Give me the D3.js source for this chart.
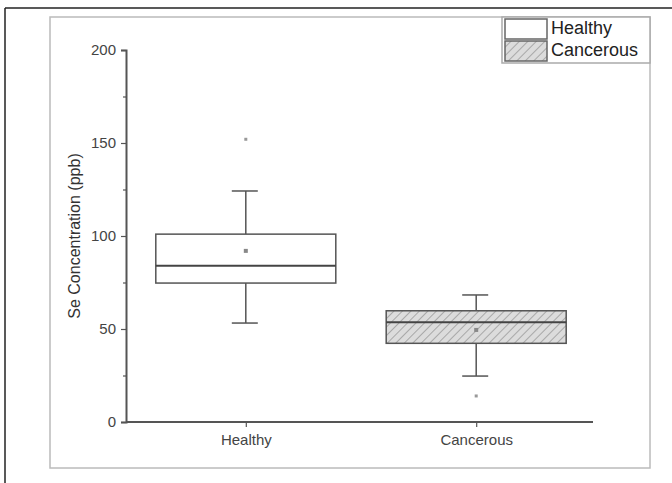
<!DOCTYPE html>
<html lang="en">
<head>
<meta charset="utf-8">
<script src="https://d3js.org/d3.v7.min.js"></script>
<style>
  body { margin: 0; background: #fff; }
  svg { font-family: "Liberation Sans", Arial, sans-serif; }
</style>
</head>
<body>
<div id="chart"></div>
<script>
// groups and box statistics (ppb)
var groups = ["Healthy", "Cancerous"];
var q1 = [74.7, 42.3];
var median = [84, 53.6];
var q3 = [101, 59.8];
var mean = [92, 49.5];
var whiskerLow = [53.2, 24.7];
var whiskerHigh = [124.2, 68.3];
var outliers = [[152], [14]];
var yTicks = [0, 50, 100, 150, 200];
var yMinor = [25, 75, 125, 175];

var W = 672, H = 483;
var svg = d3.select("#chart").append("svg")
    .attr("width", W).attr("height", H);

// hatch for the cancerous group
var defs = svg.append("defs");
var pat = defs.append("pattern")
    .attr("id", "hatch")
    .attr("patternUnits", "userSpaceOnUse")
    .attr("width", 6).attr("height", 6)
    .attr("patternTransform", "rotate(45)");
pat.append("rect").attr("width", 6).attr("height", 6).attr("fill", "#dcdcdc");
pat.append("line").attr("x1", 0).attr("y1", 0).attr("x2", 0).attr("y2", 6)
    .attr("stroke", "#a8a8a8").attr("stroke-width", 2);

// outer frame pieces (top and left edges)
svg.append("line").attr("x1", 5).attr("y1", 8).attr("x2", W).attr("y2", 8)
    .attr("stroke", "#222").attr("stroke-width", 1.5);
svg.append("line").attr("x1", 5).attr("y1", 8).attr("x2", 5).attr("y2", H)
    .attr("stroke", "#222").attr("stroke-width", 1.5);

// inner panel
svg.append("rect").attr("x", 50).attr("y", 17).attr("width", 600).attr("height", 451)
    .attr("fill", "#fff").attr("stroke", "#bbb").attr("stroke-width", 1.5);

var x = d3.scalePoint().domain(groups).range([126, 596]).padding(0.52);
var y = d3.scaleLinear().domain([0, 200]).range([422, 50]);
var boxW = 180;

var g = svg.append("g");

// y axis
g.append("g").attr("transform", "translate(126,0)")
    .call(d3.axisLeft(y).tickValues(yTicks).tickSize(5).tickPadding(5));
g.append("g").attr("transform", "translate(126,0)")
    .call(d3.axisLeft(y).tickValues(yMinor).tickSize(3).tickFormat(""))
    .call(function(s) { s.select(".domain").remove(); });

// x axis
var xAxis = g.append("g").attr("transform", "translate(0,422)")
    .call(d3.axisBottom(x).tickSize(5).tickSizeOuter(0).tickPadding(7));
xAxis.select(".domain").attr("d", "M126,0H593");

svg.selectAll(".domain").attr("stroke", "#555").attr("stroke-width", 2);
svg.selectAll(".tick line").attr("stroke", "#555").attr("stroke-width", 1.2);
svg.selectAll(".tick text").attr("fill", "#444").style("font-size", "15px");

// y label
svg.append("text")
    .attr("transform", "translate(80," + y(100) + ") rotate(-90)")
    .attr("text-anchor", "middle")
    .attr("fill", "#333")
    .style("font-size", "16px")
    .text("Se Concentration (ppb)");

// boxes
groups.forEach(function(name, i) {
  var cx = x(name);
  var bg = svg.append("g");
  var stroke = "#555";
  // whiskers
  bg.append("line").attr("x1", cx).attr("x2", cx)
      .attr("y1", y(q3[i])).attr("y2", y(whiskerHigh[i]))
      .attr("stroke", stroke).attr("stroke-width", 1.5);
  bg.append("line").attr("x1", cx).attr("x2", cx)
      .attr("y1", y(q1[i])).attr("y2", y(whiskerLow[i]))
      .attr("stroke", stroke).attr("stroke-width", 1.5);
  [whiskerHigh[i], whiskerLow[i]].forEach(function(v) {
    bg.append("line").attr("x1", cx - 14).attr("x2", cx + 12)
        .attr("y1", y(v)).attr("y2", y(v))
        .attr("stroke", stroke).attr("stroke-width", 1.5);
  });
  // box
  bg.append("rect")
      .attr("x", cx - boxW / 2).attr("width", boxW)
      .attr("y", y(q3[i])).attr("height", y(q1[i]) - y(q3[i]))
      .attr("fill", i === 0 ? "#fff" : "url(#hatch)")
      .attr("stroke", stroke).attr("stroke-width", 1.5);
  // median
  bg.append("line").attr("x1", cx - boxW / 2).attr("x2", cx + boxW / 2)
      .attr("y1", y(median[i])).attr("y2", y(median[i]))
      .attr("stroke", "#444").attr("stroke-width", 2);
  // mean
  bg.append("rect").attr("x", cx - 2).attr("y", y(mean[i]) - 2)
      .attr("width", 4).attr("height", 4).attr("fill", "#888");
  // outliers
  outliers[i].forEach(function(v) {
    bg.append("rect").attr("x", cx - 1.5).attr("y", y(v) - 1.5)
        .attr("width", 3).attr("height", 3).attr("fill", "#999");
  });
});

// legend
var lg = svg.append("g");
lg.append("rect").attr("x", 502).attr("y", 17).attr("width", 148).attr("height", 46)
    .attr("fill", "#fff").attr("stroke", "#aaa").attr("stroke-width", 1.5);
groups.forEach(function(name, i) {
  var yy = 19 + i * 22;
  lg.append("rect").attr("x", 505).attr("y", yy).attr("width", 42).attr("height", 20)
      .attr("fill", i === 0 ? "#fff" : "url(#hatch)")
      .attr("stroke", "#666").attr("stroke-width", 1.5);
  lg.append("text").attr("x", 551).attr("y", yy + 15)
      .attr("fill", "#222").style("font-size", "18px")
      .text(name);
});
</script>
</body>
</html>
